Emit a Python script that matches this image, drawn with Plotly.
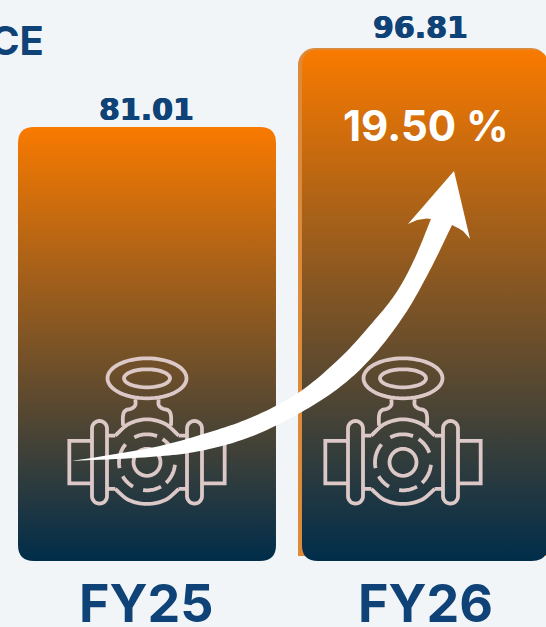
import math
import plotly.graph_objects as go

# --- data ---
categories = ["FY25", "FY26"]
values = [81.01, 96.81]
value_labels = ["81.01", "96.81"]
growth_label = "19.50 %"
clipped_title = "CE"

# --- layout constants ---
W, H = 546, 627
BG = "#f2f5f8"
NAVY = "#0f4377"
ICON = "#dcc8c6"
REAR = "#dd8a3a"
BASE = -8.05
Y_RANGE = [-21.59, 107.07]
X_RANGE = [-0.5288, 1.4353]
BAR_WIDTHS = [0.928, 0.885]


def px(x, y):
    return x / W, 1 - y / H


def path(points, close=False):
    s = ""
    for i, (x, y) in enumerate(points):
        a, b = px(x, y)
        s += ("M" if i == 0 else "L") + f"{a:.5f},{b:.5f} "
    return s + ("Z" if close else "")


def spline(pts, n=12):
    out = []
    P = [pts[0]] + list(pts) + [pts[-1]]
    for i in range(1, len(P) - 2):
        p0, p1, p2, p3 = P[i - 1], P[i], P[i + 1], P[i + 2]
        for k in range(n):
            t = k / n
            q = [
                0.5 * ((2 * p1[d]) + (-p0[d] + p2[d]) * t
                       + (2 * p0[d] - 5 * p1[d] + 4 * p2[d] - p3[d]) * t * t
                       + (-p0[d] + 3 * p1[d] - 3 * p2[d] + p3[d]) * t ** 3)
                for d in (0, 1)
            ]
            out.append(tuple(q))
    out.append(pts[-1])
    return out


def arc(cx, cy, rx, ry, a0, a1, n=40):
    return [
        (cx + rx * math.cos(math.radians(a0 + (a1 - a0) * i / n)),
         cy - ry * math.sin(math.radians(a0 + (a1 - a0) * i / n)))
        for i in range(n + 1)
    ]


def pill(x0, x1, y0, y1):
    r = (x1 - x0) / 2
    return arc(x0 + r, y0 + r, r, r, 180, 0, 16) + arc(x0 + r, y1 - r, r, r, 0, -180, 16)


def valve(cx):
    cy = 462.3
    s = lambda x: cx + (x - 290) / 3
    t = lambda y: cy + (y - 367) / 3
    d = []
    d.append(path(arc(cx, 378.3, 39.5, 20, 0, 360, 60), True))
    d.append(path(arc(cx, 378.3, 23, 9, 0, 360, 50), True))
    for sign in (-1, 1):
        X = lambda v: s(290 + sign * v)
        # neck
        d.append(path(spline([(X(35), t(178)), (X(35), t(195)), (X(45), t(205)),
                              (X(65), t(212)), (X(72), t(228)), (X(72), t(257))], 6)))
        # flange and pipe end
        d.append(path(pill(min(X(120), X(165)), max(X(120), X(165)), t(243), t(491)), True))
        d.append(path([(X(165), t(303)), (X(233), t(303)), (X(233), t(430)), (X(165), t(430))]))
        # stubs
        d.append(path([(X(95), t(287)), (X(120), t(287))]))
        d.append(path([(X(95), t(447)), (X(120), t(447))]))
    # body arcs
    d.append(path(spline([(s(195), t(287)), (s(235), t(252)), (s(290), t(238)),
                          (s(345), t(252)), (s(385), t(287))], 8)))
    d.append(path(spline([(s(195), t(447)), (s(235), t(480)), (s(290), t(492)),
                          (s(345), t(480)), (s(385), t(447))], 8)))
    # hub
    d.append(path(arc(cx, cy, 13.5, 13.5, 0, 360, 40), True))
    # dashed ring
    for a0, a1 in [(69, 117), (20, 56), (-47, -5), (-98, -60), (-150, -120), (140, 192)]:
        d.append(path(arc(cx, cy, 28, 28, a0, a1, 16)))
    return " ".join(d)


def rear_plate():
    r = 17
    return path(
        arc(298 + r, 48 + r, r, r, 180, 90, 10)
        + arc(548 - r, 48 + r, r, r, 90, 0, 10)
        + [(548, 556), (298, 556)],
        True,
    )


def arrow():
    upper = spline([(72, 461), (150, 448), (200, 435), (250, 418), (298, 393),
                    (340, 358), (373, 322), (396, 293), (414, 260), (431, 219)])
    lower = spline([(72, 461), (150, 457), (200, 451), (250, 437), (298, 414),
                    (340, 387), (373, 356), (405, 314), (430, 270), (452, 225)])
    head = [(427, 218.5), (417, 220), (408, 224), (454, 171), (470, 239), (463, 231), (458, 228)]
    return path(upper + head + lower[::-1], True)


fig = go.Figure(
    go.Bar(
        x=[0, 1],
        y=[v - BASE for v in values],
        base=BASE,
        width=BAR_WIDTHS,
        marker=dict(color="#7b5325", line=dict(width=0)),
        customdata=categories,
        hovertemplate="%{customdata}: %{y}<extra></extra>",
    )
)

shapes = [
    dict(type="path", xref="paper", yref="paper", path=rear_plate(), layer="below",
         fillcolor=REAR, line=dict(width=0)),
]
for cx in (147, 403):
    shapes.append(dict(type="path", xref="paper", yref="paper", path=valve(cx),
                       line=dict(color=ICON, width=3.8), fillcolor="rgba(0,0,0,0)"))
shapes.append(dict(type="path", xref="paper", yref="paper", path=arrow(),
                   fillcolor="white", line=dict(width=0)))

annotations = []
LABEL_FONT = "DejaVu Sans"
HEAD_FONT = "Inter"
THICKEN = f"0.6px 0 0 {NAVY}, -0.6px 0 0 {NAVY}"
for i, (lab, v, xs, ys) in enumerate(zip(value_labels, values, (-1, -4), (-2, 3))):
    annotations.append(dict(x=i, y=v, xref="x", yref="y", text=f"<b>{lab}</b>", showarrow=False,
                            xshift=xs, yshift=ys, yanchor="bottom",
                            font=dict(family=LABEL_FONT, size=30, color=NAVY, shadow=THICKEN)))
for i, (cat, xs) in enumerate(zip(categories, (-1, 1))):
    annotations.append(dict(x=i, y=px(0, 603.5)[1], xref="x", yref="paper", text=f"<b>{cat}</b>",
                            showarrow=False, xshift=xs, yanchor="middle",
                            font=dict(family=HEAD_FONT, size=52, color=NAVY)))
annotations.append(dict(x=1, y=px(0, 126)[1], xref="x", yref="paper", text=f"<b>{growth_label}</b>",
                        showarrow=False, xshift=1, yanchor="middle",
                        font=dict(family=HEAD_FONT, size=42, color="white")))
annotations.append(dict(x=px(46, 0)[0], y=px(0, 40)[1], xref="paper", yref="paper",
                        text=f"<b>{clipped_title}</b>", showarrow=False, xanchor="right", yanchor="middle",
                        font=dict(family=HEAD_FONT, size=40, color=NAVY)))

fig.update_layout(
    width=W, height=H,
    margin=dict(l=0, r=0, t=0, b=0, pad=0),
    paper_bgcolor=BG, plot_bgcolor=BG,
    showlegend=False,
    xaxis=dict(visible=False, range=X_RANGE, fixedrange=True),
    yaxis=dict(visible=False, range=Y_RANGE, fixedrange=True),
    shapes=shapes,
    annotations=annotations,
)

post = """
document.documentElement.style.margin = '0';
document.documentElement.style.overflow = 'hidden';
document.body.style.margin = '0';
document.body.style.background = '#f2f5f8';
var gd = document.getElementById('{plot_id}');
var svg = gd.querySelector('svg.main-svg');
var NS = 'http://www.w3.org/2000/svg';
var defs = svg.querySelector('defs');
var g = document.createElementNS(NS, 'linearGradient');
g.setAttribute('id', 'barFade');
g.setAttribute('x1', '0'); g.setAttribute('y1', '0');
g.setAttribute('x2', '0'); g.setAttribute('y2', '1');
[['0', '#f97a00'], ['1', '#002d4b']].forEach(function (s) {
  var st = document.createElementNS(NS, 'stop');
  st.setAttribute('offset', s[0]); st.setAttribute('stop-color', s[1]);
  g.appendChild(st);
});
defs.appendChild(g);
gd.querySelectorAll('.barlayer .point path').forEach(function (p) {
  var b = p.getBBox(), r = 16, x0 = b.x, y0 = b.y, x1 = b.x + b.width, y1 = b.y + b.height;
  p.setAttribute('d', 'M' + (x0 + r) + ',' + y0 + 'H' + (x1 - r) + 'Q' + x1 + ',' + y0 + ' ' + x1 + ',' + (y0 + r)
    + 'V' + (y1 - r) + 'Q' + x1 + ',' + y1 + ' ' + (x1 - r) + ',' + y1 + 'H' + (x0 + r)
    + 'Q' + x0 + ',' + y1 + ' ' + x0 + ',' + (y1 - r) + 'V' + (y0 + r) + 'Q' + x0 + ',' + y0 + ' ' + (x0 + r) + ',' + y0 + 'Z');
  p.style.fill = 'url(#barFade)';
});
"""

fig.write_html("out.html", config={"displayModeBar": False}, post_script=post)
